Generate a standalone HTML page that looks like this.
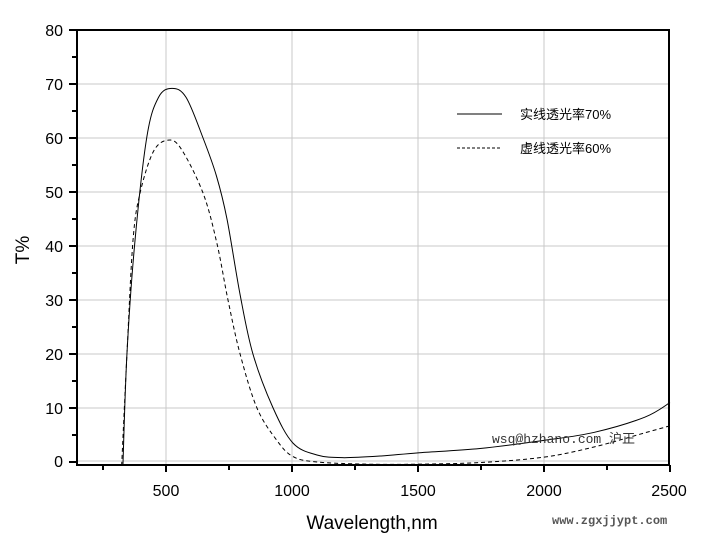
<!DOCTYPE html>
<html><head><meta charset="utf-8"><style>
body{margin:0;background:#fff;width:709px;height:543px;overflow:hidden}
svg{display:block}
text{font-family:"Liberation Sans",Arial,sans-serif;fill:#000}
</style></head><body>
<svg id="s" width="709" height="543" viewBox="0 0 709 543" xmlns="http://www.w3.org/2000/svg">
<g stroke="#c8c8c8" stroke-width="1">
<line x1="166" y1="30" x2="166" y2="465"/><line x1="292" y1="30" x2="292" y2="465"/>
<line x1="418" y1="30" x2="418" y2="465"/><line x1="544" y1="30" x2="544" y2="465"/>
<line x1="77" y1="84" x2="669" y2="84"/><line x1="77" y1="138" x2="669" y2="138"/>
<line x1="77" y1="192" x2="669" y2="192"/><line x1="77" y1="246" x2="669" y2="246"/>
<line x1="77" y1="300" x2="669" y2="300"/><line x1="77" y1="354" x2="669" y2="354"/>
<line x1="77" y1="408" x2="669" y2="408"/><line x1="77" y1="461" x2="669" y2="461"/>
</g>
<g id="curves" fill="none" stroke="#000" stroke-width="1"></g>
<rect x="77" y="30" width="592" height="435" fill="none" stroke="#000" stroke-width="2"/>
<g stroke="#000" stroke-width="2" id="ticks"></g>
<g font-size="16" text-anchor="end">
<text x="63" y="36">80</text><text x="63" y="90">70</text><text x="63" y="144">60</text>
<text x="63" y="198">50</text><text x="63" y="252">40</text><text x="63" y="306">30</text>
<text x="63" y="360">20</text><text x="63" y="414">10</text><text x="63" y="467">0</text>
</g>
<g font-size="16" text-anchor="middle">
<text x="166" y="496">500</text><text x="292" y="496">1000</text><text x="418" y="496">1500</text>
<text x="544" y="496">2000</text><text x="669" y="496">2500</text>
</g>
<text x="372" y="529" font-size="19" text-anchor="middle">Wavelength,nm</text>
<text transform="translate(29,250) rotate(-90)" font-size="19" text-anchor="middle">T%</text>
<line x1="457" y1="114" x2="502" y2="114" stroke="#000"/>
<line x1="457" y1="148" x2="502" y2="148" stroke="#000" stroke-dasharray="3,2"/>
<text x="520" y="119" font-size="13" style="font-family:'Liberation Sans','Noto Sans CJK SC',sans-serif">实线透光率70%</text>
<text x="520" y="153" font-size="13" style="font-family:'Liberation Sans','Noto Sans CJK SC',sans-serif">虚线透光率60%</text>
<text x="492" y="443" font-size="13" style="font-family:'Liberation Mono','Noto Sans CJK SC',monospace;fill:#333">wsq@hzhano.com 沪正</text>
<text x="552" y="524" font-size="12" font-weight="bold" style="font-family:'Liberation Mono',monospace;fill:#555">www.zgxjjypt.com</text>
</svg>
<script>
var ns="http://www.w3.org/2000/svg";
function X(w){return 166+(w-500)*0.252}
function Y(v){return 462-v*5.4}
function path(pts){
 var p=pts.map(function(a){return[X(a[0]),Y(a[1])]});
 var d="M"+p[0][0]+","+p[0][1];
 for(var i=0;i<p.length-1;i++){
  var p0=p[Math.max(0,i-1)],p1=p[i],p2=p[i+1],p3=p[Math.min(p.length-1,i+2)];
  d+=" C"+(p1[0]+(p2[0]-p0[0])/6)+","+(p1[1]+(p2[1]-p0[1])/6)+" "+(p2[0]-(p3[0]-p1[0])/6)+","+(p2[1]-(p3[1]-p1[1])/6)+" "+p2[0]+","+p2[1];
 }
 return d;
}
var solid=[[329,-0.7],[345,20],[376,40.5],[424,60.2],[470,67.5],[524,69.2],[580,67.5],[647,60],[700,53],[742,45],[794,31],[845,20],[925,10],[1004,3.5],[1099,1.3],[1200,0.8],[1350,1.1],[1500,1.7],[1746,2.5],[2000,4],[2200,5.5],[2400,8.3],[2500,11]];
var dash=[[324,-0.7],[345,20],[369,41],[397,49.8],[450,57.5],[508,59.6],[560,58],[647,49.8],[702,40.5],[746,30],[794,20],[861,10],[940,4],[1004,1],[1099,0],[1300,-0.4],[1500,-0.4],[1746,-0.1],[2000,0.9],[2200,2.8],[2400,5.4],[2500,6.7]];
var g=document.getElementById("curves");
var a=document.createElementNS(ns,"path");a.setAttribute("d",path(solid));g.appendChild(a);
var b=document.createElementNS(ns,"path");b.setAttribute("d",path(dash));b.setAttribute("stroke-dasharray","4,3");g.appendChild(b);
var t=document.getElementById("ticks");
function ln(x1,y1,x2,y2){var l=document.createElementNS(ns,"line");l.setAttribute("x1",x1);l.setAttribute("y1",y1);l.setAttribute("x2",x2);l.setAttribute("y2",y2);t.appendChild(l);}
for(var w=250;w<=2500;w+=250){var x=X(w);if(x<78)continue;ln(x,465,x,w%500==0?472:470);}
for(var v=0;v<=80;v+=5){var y=Y(v);if(v==80)y=30;ln(77,y,v%10==0?69:72,y);}
</script>
</body></html>
